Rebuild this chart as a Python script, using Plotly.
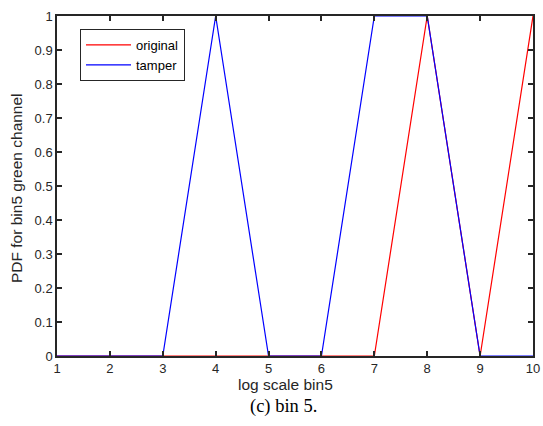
import plotly.graph_objects as go

x_vals = [1, 2, 3, 4, 5, 6, 7, 8, 9, 10]
original = [0, 0, 0, 0, 0, 0, 0, 1, 0, 1]
tamper = [0, 0, 0, 1, 0, 0, 1, 1, 0, 0]
x_ticks = [1, 2, 3, 4, 5, 6, 7, 8, 9, 10]
y_ticks = [0, 0.1, 0.2, 0.3, 0.4, 0.5, 0.6, 0.7, 0.8, 0.9, 1]

FONT = "Liberation Sans, Arial"
W, H = 543, 426
l, r, t, b = 57, 10, 16, 70
pw, ph = W - l - r, H - t - b


def px_to_paper(xp, yp):
    return (xp - l) / pw, (H - b - yp) / ph


fig = go.Figure()
fig.add_trace(go.Scatter(x=x_vals, y=original, mode="lines", name="original",
                         line=dict(color="#ff0000", width=1.2)))
fig.add_trace(go.Scatter(x=x_vals, y=tamper, mode="lines", name="tamper",
                         line=dict(color="#0000ff", width=1.2)))

axis_common = dict(showgrid=False, zeroline=False, showline=True, mirror="ticks",
                   linecolor="#262626", linewidth=1.5, ticks="inside", ticklen=5,
                   tickcolor="#262626", tickwidth=1.5, automargin=False,
                   tickfont=dict(family=FONT, size=13, color="#262626"))

lx, ly = px_to_paper(80, 29)
fig.update_layout(
    width=W, height=H,
    margin=dict(l=l, r=r, t=t, b=b),
    plot_bgcolor="white", paper_bgcolor="white",
    xaxis=dict(range=[1, 10], tickvals=x_ticks, ticktext=[str(v) for v in x_ticks],
               **axis_common),
    yaxis=dict(range=[0, 1], tickvals=y_ticks, ticktext=[("%g" % v) for v in y_ticks],
               **axis_common),
    legend=dict(x=lx, y=ly, xanchor="left", yanchor="top",
                bgcolor="white", bordercolor="#262626", borderwidth=1,
                font=dict(family=FONT, size=13, color="#000000"),
                tracegroupgap=0, itemwidth=45),
    showlegend=True,
)

ax, ay = px_to_paper(285, 384)
fig.add_annotation(text="log scale bin5", x=ax, y=ay,
                   xref="paper", yref="paper", showarrow=False, xanchor="center", yanchor="middle",
                   font=dict(family=FONT, size=15.5, color="#262626"))
yx, yy = px_to_paper(16, 188)
fig.add_annotation(text="PDF for bin5 green channel", textangle=-90, x=yx, y=yy,
                   xref="paper", yref="paper", showarrow=False, xanchor="center", yanchor="middle",
                   font=dict(family=FONT, size=15.5, color="#262626"))
cx, cy = px_to_paper(283, 406)
fig.add_annotation(text="(c) bin 5.", x=cx, y=cy,
                   xref="paper", yref="paper", showarrow=False, xanchor="center", yanchor="middle",
                   font=dict(family="Liberation Serif, Times New Roman", size=18.5, color="#000000"))

fig.write_html("out.html", config={"displayModeBar": False},
               post_script="document.body.style.margin='0';document.body.style.overflow='hidden';")
